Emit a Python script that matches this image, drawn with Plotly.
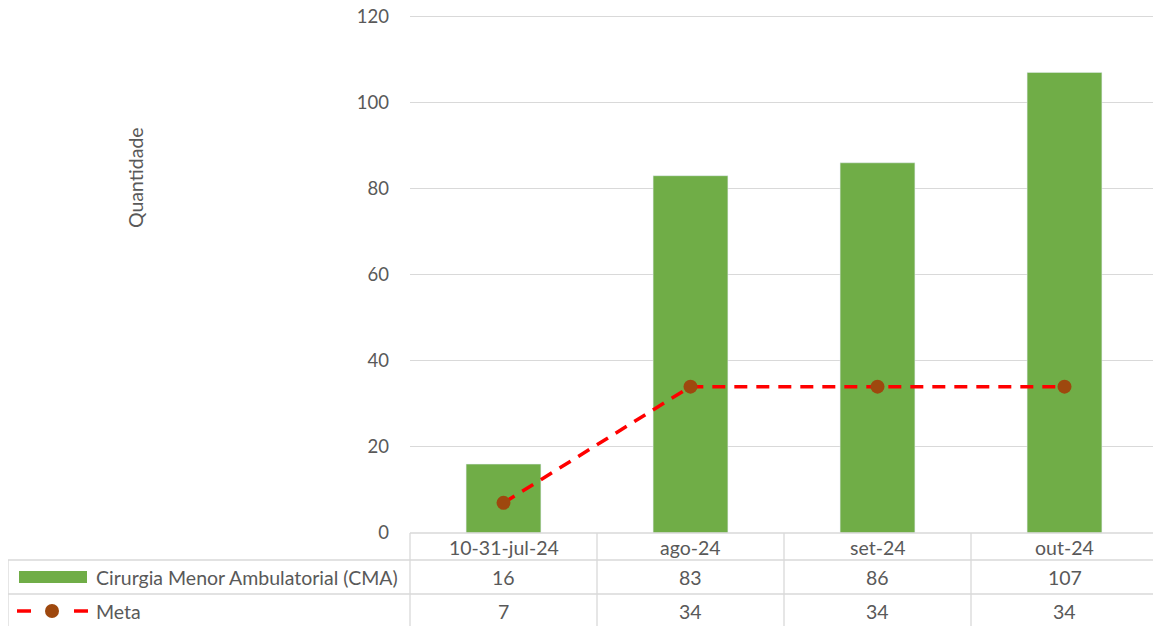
import plotly.graph_objects as go

categories = ["10-31-jul-24", "ago-24", "set-24", "out-24"]
cma = [16, 83, 86, 107]
meta = [7, 34, 34, 34]
series_names = ["Cirurgia Menor Ambulatorial (CMA)", "Meta"]
y_ticks = [0, 20, 40, 60, 80, 100, 120]

# page has an 8px body margin; work in reference pixels and shift
OFF = 8
W, H = 1161 - OFF, 626 - OFF
L, R, T, B = 410 - OFF, 3, 16 - OFF, 93
pw, ph = W - L - R, H - T - B
FONT = "Lato, Open Sans, sans-serif"
FS = 19.5
TXT = "#595959"
GRID = "#d9d9d9"
GREEN = "#70ad47"
RED = "#ff0000"
BROWN = "#9e480e"

def px_x(px):
    return (px - OFF - L) / pw

def px_y(py):
    return (H - B - (py - OFF)) / ph

fig = go.Figure()
fig.add_trace(go.Bar(x=categories, y=cma, marker_color=GREEN, width=0.4, name=series_names[0]))
fig.add_trace(go.Scatter(x=categories, y=meta, mode="lines+markers", name=series_names[1],
                         line=dict(color=RED, width=3.5, dash="13px,9px"),
                         marker=dict(color=BROWN, size=14)))

shapes = []
line = dict(color=GRID, width=1.3)
# top gridline (plotly drops the one at the range edge)
shapes.append(dict(type="line", xref="paper", yref="y", x0=0, x1=1, y0=y_ticks[-1], y1=y_ticks[-1],
                   line=line, layer="below"))
for py, x0 in [(533, 410), (560, 8), (594, 8)]:
    shapes.append(dict(type="line", xref="paper", yref="paper", x0=px_x(x0), x1=1.0,
                       y0=px_y(py), y1=px_y(py), line=line))
shapes.append(dict(type="line", xref="paper", yref="paper", x0=px_x(8), x1=px_x(8),
                   y0=px_y(560), y1=px_y(640), line=line))
for i in range(len(categories) + 1):
    x = i / len(categories)
    shapes.append(dict(type="line", xref="paper", yref="paper", x0=x, x1=x,
                       y0=px_y(533), y1=px_y(640), line=line))
shapes.append(dict(type="rect", xref="paper", yref="paper", x0=px_x(19), x1=px_x(87),
                   y0=px_y(583), y1=px_y(571), fillcolor=GREEN, line=dict(width=0)))
for a, b in [(17, 31), (74, 88)]:
    shapes.append(dict(type="line", xref="paper", yref="paper", x0=px_x(a), x1=px_x(b),
                       y0=px_y(611), y1=px_y(611), line=dict(color=RED, width=3.5)))
shapes.append(dict(type="circle", xref="paper", yref="paper", x0=px_x(45), x1=px_x(59),
                   y0=px_y(618), y1=px_y(604), fillcolor=BROWN, line=dict(width=0)))

ann = []
f = dict(family=FONT, size=FS, color=TXT)
for i, c in enumerate(categories):
    for py, val in [(547, c), (577, str(cma[i])), (611, str(meta[i]))]:
        ann.append(dict(x=c, xref="x", y=px_y(py), yref="paper", text=val, showarrow=False,
                        font=f, yanchor="middle"))
for py, name in [(577, series_names[0]), (611, series_names[1])]:
    ann.append(dict(x=px_x(94), xref="paper", y=px_y(py), yref="paper", text=name,
                    showarrow=False, font=f, xanchor="left", yanchor="middle"))
ann.append(dict(x=px_x(135), xref="paper", y=px_y(178), yref="paper", text="Quantidade",
                textangle=-90, showarrow=False, font=f, xanchor="center", yanchor="middle"))

fig.update_layout(
    width=W, height=H, margin=dict(l=L, r=R, t=T, b=B, autoexpand=False),
    paper_bgcolor="white", plot_bgcolor="white", showlegend=False,
    shapes=shapes, annotations=ann,
    xaxis=dict(type="category", range=[-0.5, 3.5], showticklabels=False, showgrid=False,
               zeroline=False, showline=False),
    yaxis=dict(range=[0, 120.1], tickvals=y_ticks, showgrid=True,
               gridcolor=GRID, gridwidth=1.3, zeroline=False, showline=False,
               tickfont=dict(family=FONT, size=18.5, color=TXT), ticklabelstandoff=20,
               automargin=False, ticklabeloverflow="allow"),
)
fig.write_html("out.html")
